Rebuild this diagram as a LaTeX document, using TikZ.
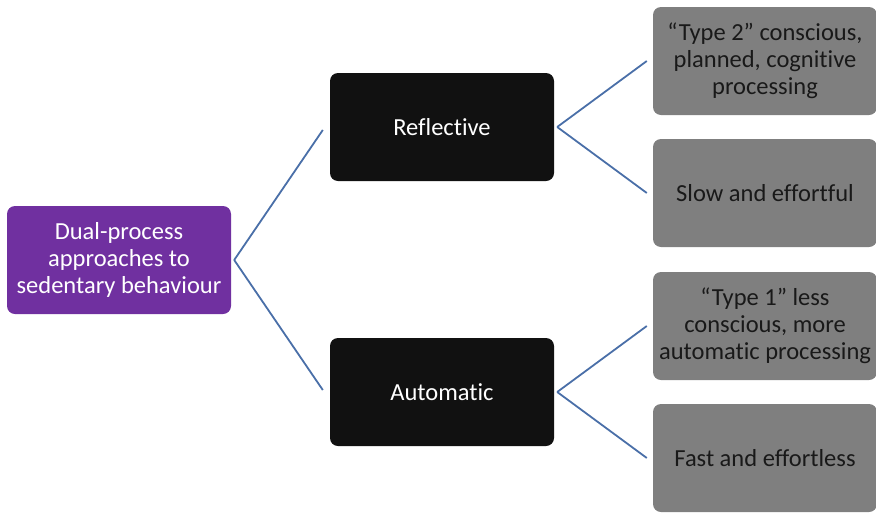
\documentclass[tikz,border=0pt]{standalone}
\usepackage{fontspec}
\setmainfont{Carlito}[Ligatures={TeX,NoCommon}]
\usetikzlibrary{positioning}
\definecolor{rootpurple}{HTML}{7030A0}
\definecolor{midblack}{HTML}{111111}
\definecolor{leafgray}{HTML}{7F7F7F}
\definecolor{linkblue}{HTML}{4A6FA8}

\begin{document}
\begin{tikzpicture}[x=1pt,y=1pt,
    box/.style={rectangle, rounded corners=8pt, minimum width=224pt, minimum height=108pt,
        align=center, inner sep=1pt, font=\fontsize{24.5}{27}\selectfont},
    rootbox/.style={box, fill=rootpurple, text=white},
    midbox/.style={box, fill=midblack, text=white},
    leafbox/.style={box, fill=leafgray, text=black!90},
    link/.style={draw=linkblue, line width=1.8pt}]
		\useasboundingbox (0,0) rectangle (876,-512);
		% Root and the two processes
		\node[rootbox] (dual) at (119,-260) {Dual-process\\approaches to\\sedentary behaviour};
		\node[midbox] (refl) at (442,-127) {Reflective};
		\node[midbox] (auto) at (442,-392) {Automatic};
		
		% Descriptions
		\node[leafbox] (type2) at (765,-61) {“Type 2” conscious,\\planned, cognitive\\processing};
		\node[leafbox] (slow) at (765,-193) {Slow and effortful};
		\node[leafbox] (type1) at (765,-326) {“Type 1” less\\conscious, more\\automatic processing};
		\node[leafbox] (fast) at (765,-458) {Fast and effortless};
		
		% Connectors
		\draw[link] ([xshift=3pt]dual.east) -- ([xshift=-7pt,yshift=-3pt]refl.west);
		\draw[link] ([xshift=3pt]dual.east) -- ([xshift=-7pt,yshift=2pt]auto.west);
		\draw[link] ([xshift=3pt]refl.east) -- ([xshift=-6pt]type2.west);
		\draw[link] ([xshift=3pt]refl.east) -- ([xshift=-6pt]slow.west);
		\draw[link] ([xshift=3pt]auto.east) -- ([xshift=-6pt]type1.west);
		\draw[link] ([xshift=3pt]auto.east) -- ([xshift=-6pt]fast.west);
\end{tikzpicture}
\end{document}
